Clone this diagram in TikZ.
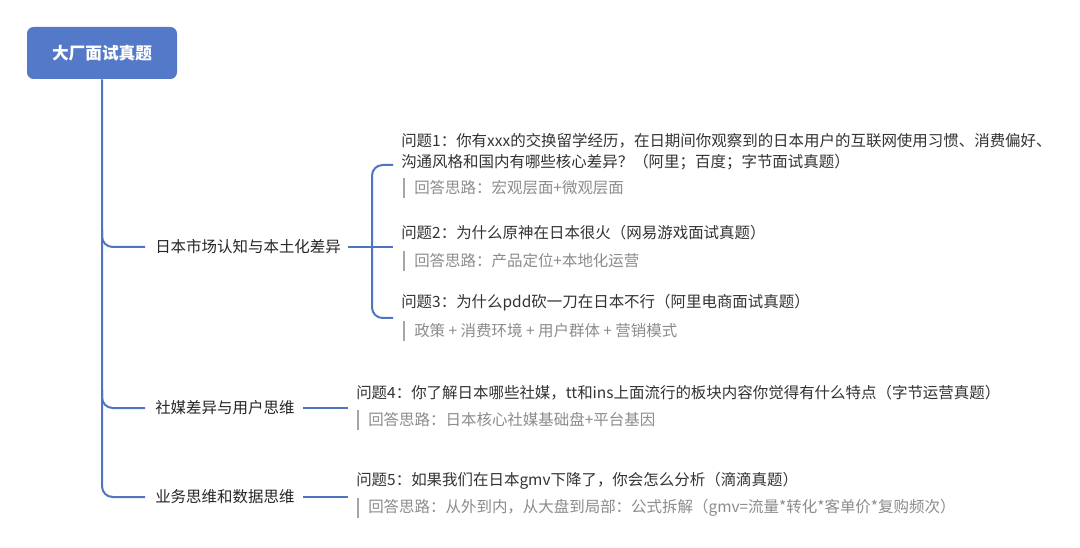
\documentclass[tikz,border=0pt]{standalone}
\usepackage{fontspec}
\setmainfont{Noto Sans CJK SC}
\begin{document}
\begin{tikzpicture}[x=0.75pt,y=-0.75pt,
  conn/.style={draw=blueL,line width=1.5pt,rounded corners=8pt},
  qtext/.style={anchor=west,inner sep=0pt,text=black!80,font=\fontsize{11.6}{16}\selectfont,align=left},
  atext/.style={anchor=west,inner sep=0pt,text=black!45,font=\fontsize{11.6}{16}\selectfont},
  btext/.style={anchor=west,inner sep=0pt,text=black!85,font=\fontsize{11.6}{16}\selectfont},
  abar/.style={draw=black!35,line width=1.5pt}]
\definecolor{blueL}{HTML}{4F75C2}
\definecolor{rootC}{HTML}{5479C8}
\useasboundingbox[fill=white] (0,0) rectangle (1080,548);
\node[fill=rootC,rounded corners=5pt,minimum width=112.5pt,minimum height=39pt,text=white,font=\fontsize{12.5}{14}\selectfont\bfseries] (root) at (102,53) {大厂面试真题};
% branches
\node[btext] (b1) at (155,247) {日本市场认知与本土化差异};
\node[btext] (b2) at (155,408) {社媒差异与用户思维};
\node[btext] (b3) at (155,497) {业务思维和数据思维};
\coordinate (m1) at (145,247);
\coordinate (m2) at (145,408);
\coordinate (m3) at (145,497);
\draw[conn] (root.south) |- (m3);
\draw[conn] (102,230) |- (m1);
\draw[conn] (102,390) |- (m2);
% branch1 questions
\node[qtext] (q1) at (401,152) {问题1：你有xxx的交换留学经历，在日期间你观察到的日本用户的互联网使用习惯、消费偏好、\\沟通风格和国内有哪些核心差异？（阿里；百度；字节面试真题）};
\node[atext] (a1) at (414,188) {回答思路：宏观层面+微观层面};
\node[qtext] (q2) at (401,233) {问题2：为什么原神在日本很火（网易游戏面试真题）};
\node[atext] (a2) at (414,261) {回答思路：产品定位+本地化运营};
\node[qtext] (q3) at (401,303) {问题3：为什么pdd砍一刀在日本不行（阿里电商面试真题）};
\node[atext] (a3) at (414,331) {政策 + 消费环境 + 用户群体 + 营销模式};
\coordinate (c1) at (393,165);
\coordinate (c2) at (393,247);
\coordinate (c3) at (393,318);
\coordinate (s1) at (348,247);
\draw[conn] (s1) -- (c2);
\draw[conn] (c1) -| (372,247) |- (c3);
\draw[abar] (404,178) -- (404,198);
\draw[abar] (404,251) -- (404,271);
\draw[abar] (404,321) -- (404,341);
% branch2
\node[qtext] (q4) at (356,393) {问题4：你了解日本哪些社媒，tt和ins上面流行的板块内容你觉得有什么特点（字节运营真题）};
\node[atext] (a4) at (368,420) {回答思路：日本核心社媒基础盘+平台基因};
\draw[abar] (358,410) -- (358,430);
\coordinate (s2) at (303,408);
\coordinate (e2) at (348,408);
\draw[conn] (s2) -- (e2);
% branch3
\node[qtext] (q5) at (356,481) {问题5：如果我们在日本gmv下降了，你会怎么分析（滴滴真题）};
\node[atext] (a5) at (368,508) {回答思路：从外到内，从大盘到局部：公式拆解（gmv=流量*转化*客单价*复购频次）};
\draw[abar] (358,498) -- (358,518);
\coordinate (s3) at (303,497);
\coordinate (e3) at (348,497);
\draw[conn] (s3) -- (e3);
\end{tikzpicture}
\end{document}
